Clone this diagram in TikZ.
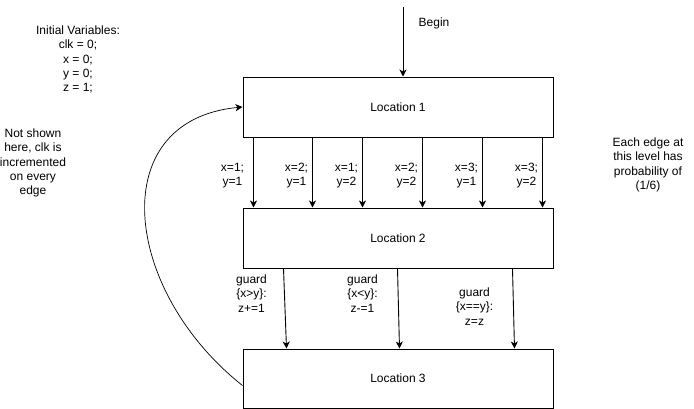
\documentclass[tikz,border=0pt]{standalone}
\usepackage{fontspec}
\setmainfont{Liberation Sans}
\usetikzlibrary{positioning,arrows.meta,calc}
\tikzset{
  transition/.style={-{Stealth[length=7pt,width=7pt,inset=2pt]}, draw, black, line width=0.9pt},
}

\begin{document}
\begin{tikzpicture}[x=1pt,y=-1pt,font=\fontsize{12}{14.3}\selectfont,
            loc/.style={rectangle,draw=black,line width=1pt,minimum width=310pt,minimum height=60pt,inner sep=0pt},
            note/.style={align=center,inner sep=0pt}]
            \useasboundingbox (0,0) rectangle (694,408);

            \node[loc] (loc1) at (398,107) {Location 1};
            \node[loc, below=70pt of loc1] (loc2) {Location 2};
            \node[loc, below=80pt of loc2, minimum height=59pt] (loc3) {Location 3};

            \coordinate (begin) at (403,7);
            \node[note] (beginlabel) at (434,23) {Begin};
            \draw [transition] (begin) -- (begin |- loc1.north);

            \node[note] (initvars) at (78,59.5) {Initial Variables:\\clk = 0;\\x = 0;\\y = 0;\\z = 1;};
            \node[note] (clknote) at (33,163) {Not shown\\here, clk is\\incremented\\on every\\edge};
            \node[note] (probnote) at (648,165) {Each edge at\\this level has\\probability of\\(1/6)};

            \foreach \dx/\lx/\val in {11/-21/{x=1;\\y=1}, 70/-16/{x=2;\\y=1}, 120/-16/{x=1;\\y=2}, 180/-16/{x=2;\\y=2}, 240/-16/{x=3;\\y=1}, 300/-16/{x=3;\\y=2}}
            {
                \draw [transition] ([xshift=\dx pt]loc1.south west) -- ([xshift=\dx pt]loc2.north west);
                \node[note] at ([xshift=\dx pt+\lx pt,yshift=-38pt]loc1.south west) {\val};
            }

            \foreach \dxa/\dxb/\lx/\ly/\val in {41/44/9/25/{guard\\\{x>y\}:\\z+=1}, 155/157/120/25/{guard\\\{x<y\}:\\z-=1}, 270/272/232/38/{guard\\\{x==y\}:\\z=z}}
            {
                \draw [transition] ([xshift=\dxa pt]loc2.south west) -- ([xshift=\dxb pt]loc3.north west);
                \node[note] at ([xshift=\lx pt,yshift=-\ly pt]loc2.south west) {\val};
            }

            \draw [transition, line width=0.7pt] ([yshift=-7pt]loc3.west) .. controls (122,290) and (104,120) .. (loc1.west);

         \end{tikzpicture}
\end{document}
